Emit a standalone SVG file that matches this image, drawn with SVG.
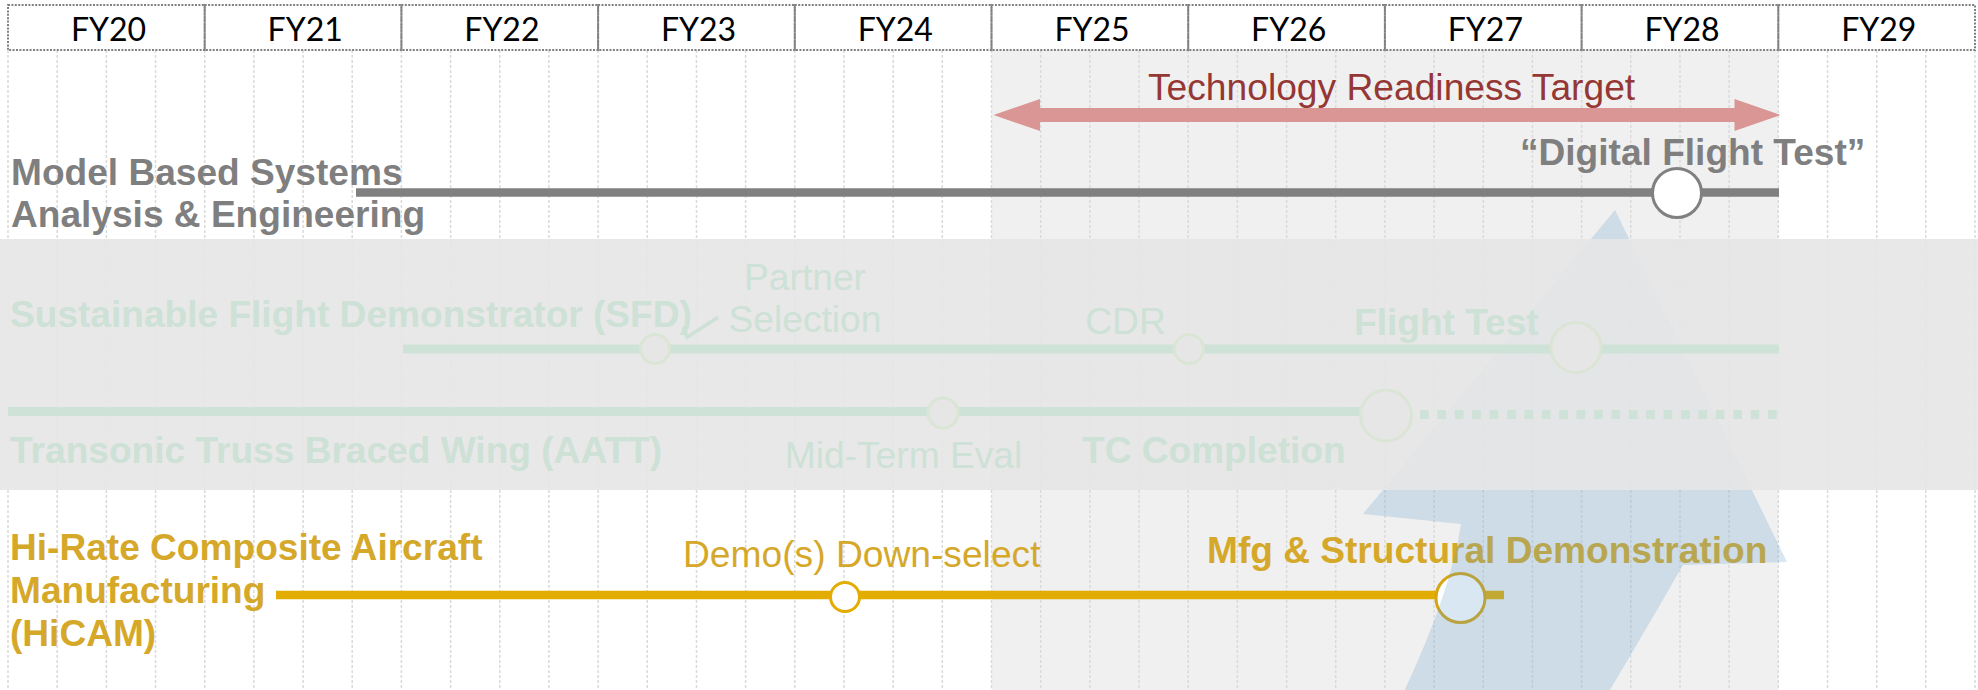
<svg xmlns="http://www.w3.org/2000/svg" width="1978" height="690" viewBox="0 0 1978 690">
  <style>
    .yr { font-family: Lato, "Open Sans", sans-serif; font-size: 32px; fill: #000; text-anchor: middle; }
    .cell { stroke: #808080; stroke-width: 2; stroke-dasharray: 2 1.4; fill: none; }
    .grid { stroke: #dadada; stroke-width: 1.5; stroke-dasharray: 3 2; }
    .lbl { font-family: "Liberation Sans", Arial, sans-serif; font-size: 37.1px; font-weight: bold; }
    .reg { font-family: "Liberation Sans", Arial, sans-serif; font-size: 37.2px; }
    .gray { fill: #7f7f7f; }
    .fade { fill: #cde1d6; }
    .gold { fill: #d5a82a; }
    .fadeLine { stroke: #cfe2d8; stroke-width: 9; fill: none; }
    .fadeDot { fill: #e6e6e6; stroke: #dbe5d5; stroke-width: 3; }
  </style>

  <!-- canvas -->
  <rect x="0" y="0" width="1978" height="690" fill="#ffffff"/>

  <!-- shaded FY25-FY28 window -->
  <rect x="991.5" y="50" width="786.8" height="640" fill="#f0f0f0"/>

  <!-- quarter grid -->
  <g id="grid">
    <line class="grid" x1="8" y1="50" x2="8" y2="690"/>
    <line class="grid" x1="57.2" y1="50" x2="57.2" y2="690"/>
    <line class="grid" x1="106.4" y1="50" x2="106.4" y2="690"/>
    <line class="grid" x1="155.5" y1="50" x2="155.5" y2="690"/>
    <line class="grid" x1="204.7" y1="50" x2="204.7" y2="690"/>
    <line class="grid" x1="253.9" y1="50" x2="253.9" y2="690"/>
    <line class="grid" x1="303.1" y1="50" x2="303.1" y2="690"/>
    <line class="grid" x1="352.2" y1="50" x2="352.2" y2="690"/>
    <line class="grid" x1="401.4" y1="50" x2="401.4" y2="690"/>
    <line class="grid" x1="450.6" y1="50" x2="450.6" y2="690"/>
    <line class="grid" x1="499.8" y1="50" x2="499.8" y2="690"/>
    <line class="grid" x1="548.9" y1="50" x2="548.9" y2="690"/>
    <line class="grid" x1="598.1" y1="50" x2="598.1" y2="690"/>
    <line class="grid" x1="647.3" y1="50" x2="647.3" y2="690"/>
    <line class="grid" x1="696.5" y1="50" x2="696.5" y2="690"/>
    <line class="grid" x1="745.6" y1="50" x2="745.6" y2="690"/>
    <line class="grid" x1="794.8" y1="50" x2="794.8" y2="690"/>
    <line class="grid" x1="844" y1="50" x2="844" y2="690"/>
    <line class="grid" x1="893.2" y1="50" x2="893.2" y2="690"/>
    <line class="grid" x1="942.3" y1="50" x2="942.3" y2="690"/>
    <line class="grid" x1="991.5" y1="50" x2="991.5" y2="690"/>
    <line class="grid" x1="1040.7" y1="50" x2="1040.7" y2="690"/>
    <line class="grid" x1="1089.9" y1="50" x2="1089.9" y2="690"/>
    <line class="grid" x1="1139" y1="50" x2="1139" y2="690"/>
    <line class="grid" x1="1188.2" y1="50" x2="1188.2" y2="690"/>
    <line class="grid" x1="1237.4" y1="50" x2="1237.4" y2="690"/>
    <line class="grid" x1="1286.6" y1="50" x2="1286.6" y2="690"/>
    <line class="grid" x1="1335.7" y1="50" x2="1335.7" y2="690"/>
    <line class="grid" x1="1384.9" y1="50" x2="1384.9" y2="690"/>
    <line class="grid" x1="1434.1" y1="50" x2="1434.1" y2="690"/>
    <line class="grid" x1="1483.3" y1="50" x2="1483.3" y2="690"/>
    <line class="grid" x1="1532.4" y1="50" x2="1532.4" y2="690"/>
    <line class="grid" x1="1581.6" y1="50" x2="1581.6" y2="690"/>
    <line class="grid" x1="1630.8" y1="50" x2="1630.8" y2="690"/>
    <line class="grid" x1="1680" y1="50" x2="1680" y2="690"/>
    <line class="grid" x1="1729.1" y1="50" x2="1729.1" y2="690"/>
    <line class="grid" x1="1778.3" y1="50" x2="1778.3" y2="690"/>
    <line class="grid" x1="1827.5" y1="50" x2="1827.5" y2="690"/>
    <line class="grid" x1="1876.7" y1="50" x2="1876.7" y2="690"/>
    <line class="grid" x1="1925.8" y1="50" x2="1925.8" y2="690"/>
    <line class="grid" x1="1975" y1="50" x2="1975" y2="690"/>
  </g>

  <!-- fiscal year header -->
  <g id="header">
    <rect x="8" y="5" width="1967" height="45" fill="#ffffff"/>
    <rect class="cell" x="8" y="5" width="196.7" height="45"/>
    <rect class="cell" x="204.7" y="5" width="196.7" height="45"/>
    <rect class="cell" x="401.4" y="5" width="196.7" height="45"/>
    <rect class="cell" x="598.1" y="5" width="196.7" height="45"/>
    <rect class="cell" x="794.8" y="5" width="196.7" height="45"/>
    <rect class="cell" x="991.5" y="5" width="196.7" height="45"/>
    <rect class="cell" x="1188.2" y="5" width="196.7" height="45"/>
    <rect class="cell" x="1384.9" y="5" width="196.7" height="45"/>
    <rect class="cell" x="1581.6" y="5" width="196.7" height="45"/>
    <rect class="cell" x="1778.3" y="5" width="196.7" height="45"/>
    <text class="yr" x="108.5" y="41">FY20</text>
    <text class="yr" x="305.2" y="41">FY21</text>
    <text class="yr" x="501.9" y="41">FY22</text>
    <text class="yr" x="698.6" y="41">FY23</text>
    <text class="yr" x="895.3" y="41">FY24</text>
    <text class="yr" x="1092" y="41">FY25</text>
    <text class="yr" x="1288.7" y="41">FY26</text>
    <text class="yr" x="1485.4" y="41">FY27</text>
    <text class="yr" x="1682.1" y="41">FY28</text>
    <text class="yr" x="1878.8" y="41">FY29</text>
  </g>

  <!-- technology readiness window -->
  <g id="trl-target">
    <path d="M 993.5 115 L 1040 99 L 1040 108 L 1734.5 108 L 1734.5 99 L 1780.5 115 L 1734.5 131 L 1734.5 122 L 1040 122 L 1040 131 Z" fill="#d99694"/>
    <text class="reg" x="1148" y="100" fill="#953735">Technology Readiness Target</text>
  </g>

  <!-- Model Based Systems Analysis & Engineering -->
  <g id="mbse">
    <line x1="356" y1="192.5" x2="1779" y2="192.5" stroke="#808080" stroke-width="8.5"/>
    <circle cx="1677" cy="193" r="24.5" fill="#ffffff" stroke="#808080" stroke-width="3"/>
    <text class="lbl gray" x="11" y="185">Model Based Systems</text>
    <text class="lbl gray" x="11" y="227">Analysis &amp; Engineering</text>
    <text class="lbl gray" x="1520" y="164.5">“Digital Flight Test”</text>
  </g>

  <!-- Hi-Rate Composite Aircraft Manufacturing -->
  <g id="hicam">
    <line x1="276" y1="595" x2="1504" y2="595" stroke="#e2ac00" stroke-width="8.7"/>
    <circle cx="845" cy="597" r="14.5" fill="#ffffff" stroke="#e2ac00" stroke-width="3"/>
    <circle cx="1460.5" cy="598" r="24.5" fill="#ffffff" stroke="#d6a514" stroke-width="3"/>
    <text class="lbl gold" x="10" y="560">Hi-Rate Composite Aircraft</text>
    <text class="lbl gold" x="10" y="603">Manufacturing</text>
    <text class="lbl gold" x="10" y="646">(HiCAM)</text>
    <text class="reg gold" x="683" y="567">Demo(s) Down-select</text>
    <text class="lbl gold" x="1207" y="563">Mfg &amp; Structural Demonstration</text>
  </g>

  <!-- translucent upward sweep toward the readiness target -->
  <g id="sweep">
    <path d="M 1615 210 L 1787 562 L 1683 565 Q 1648 626 1604 700 L 1400 700 Q 1451 593 1461 524 L 1363 514 Z" fill="#64a0c8" fill-opacity="0.25"/>
  </g>

  <!-- de-emphasised band -->
  <rect x="0" y="239" width="1978" height="251" fill="#e6e6e6" fill-opacity="0.9"/>

  <!-- Sustainable Flight Demonstrator -->
  <g id="sfd">
    <line class="fadeLine" x1="403" y1="349" x2="1779" y2="349"/>
    <circle class="fadeDot" cx="655" cy="349" r="14.5"/>
    <circle class="fadeDot" cx="1189" cy="349" r="14.5"/>
    <circle class="fadeDot" cx="1576" cy="347.5" r="25"/>
    <polyline points="683.5,327 687,337.3 718,317.3" fill="none" stroke="#cde1d6" stroke-width="3.5"/>
    <text class="lbl fade" x="10" y="327">Sustainable Flight Demonstrator (SFD)</text>
    <text class="reg fade" x="805" y="290" text-anchor="middle">Partner</text>
    <text class="reg fade" x="805" y="332" text-anchor="middle">Selection</text>
    <text class="reg fade" x="1125.5" y="334" text-anchor="middle">CDR</text>
    <text class="lbl fade" x="1354" y="335">Flight Test</text>
  </g>

  <!-- Transonic Truss Braced Wing -->
  <g id="aatt">
    <line class="fadeLine" x1="8" y1="411.5" x2="1362" y2="411.5"/>
    <line class="fadeLine" x1="1420" y1="414.5" x2="1778" y2="414.5" stroke-dasharray="8.7 8.7"/>
    <circle class="fadeDot" cx="943" cy="413" r="15"/>
    <circle class="fadeDot" cx="1386" cy="415.5" r="25.5"/>
    <text class="lbl fade" x="10" y="463">Transonic Truss Braced Wing (AATT)</text>
    <text class="reg fade" x="903.5" y="468" text-anchor="middle">Mid-Term Eval</text>
    <text class="lbl fade" x="1082" y="463">TC Completion</text>
  </g>
</svg>
